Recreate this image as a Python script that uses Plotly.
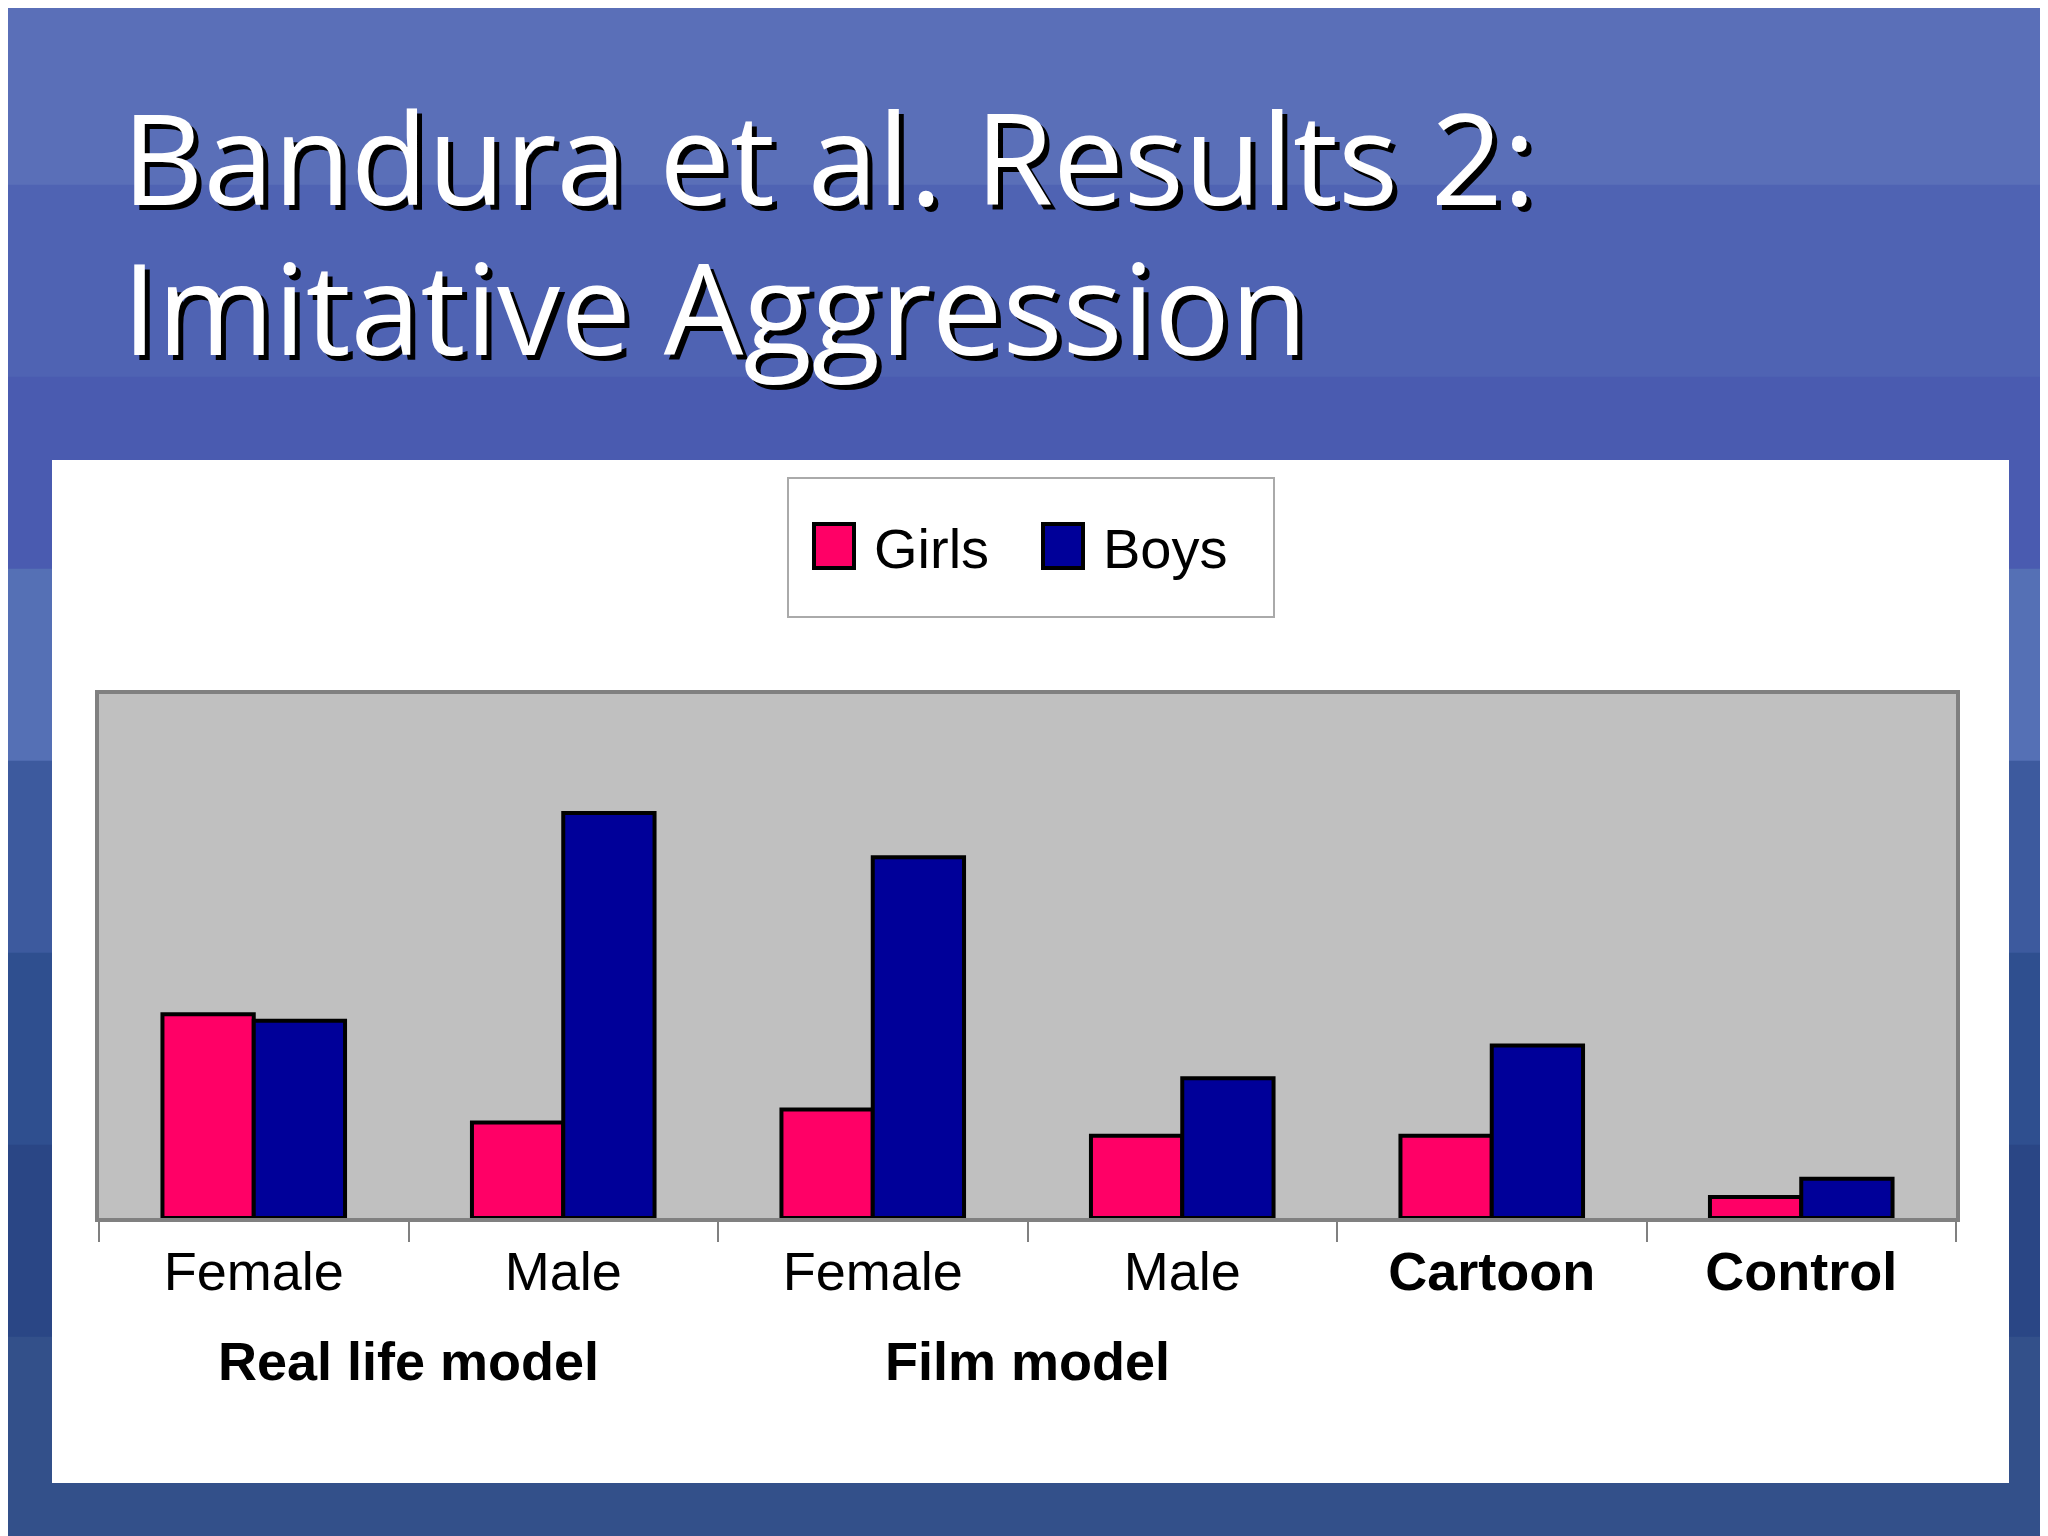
import plotly.graph_objects as go

categories = ["Female", "Male", "Female", "Male", "<b>Cartoon</b>", "<b>Control</b>"]
girls = [156, 73, 83, 63, 63, 16]
boys = [151, 310, 276, 107, 132, 30]
groups = [("Real life model", 0.5), ("Film model", 2.5)]
series = [("Girls", "#ff0066"), ("Boys", "#000099")]

W, H = 2048, 1536
x = list(range(len(categories)))
DY = -9

fig = go.Figure()
for (name, col), vals in zip(series, [girls, boys]):
    fig.add_bar(x=x, y=vals, name=name, showlegend=False,
                marker=dict(color=col, line=dict(color="black", width=4)))

def fx(px): return px / W
def fy(py): return 1 - (py + DY) / H

px0, px1, py0, py1 = 91, 1948, 695, 1219

shapes = []
bands = ["#5a6fb8", "#4f63b3", "#4a5bb0", "#5570b5", "#3d5a9e", "#2f4f8f", "#2a4685", "#33508a"]
n = len(bands)
for i, c in enumerate(bands):
    shapes.append(dict(type="rect", xref="paper", yref="paper", layer="below",
                       x0=-0.1, x1=1.1, y0=1 - (i + 1) / n - 0.01, y1=1 - i / n + 0.01,
                       fillcolor=c, line=dict(width=0)))
shapes.append(dict(type="rect", xref="paper", yref="paper", layer="below",
                   x0=fx(44), x1=fx(2001), y0=fy(1484), y1=fy(461),
                   fillcolor="white", line=dict(width=0)))
shapes.append(dict(type="rect", xref="paper", yref="paper", layer="below",
                   x0=fx(px0), x1=fx(px1), y0=fy(py1), y1=fy(py0),
                   fillcolor="#c0c0c0", line=dict(width=0)))
shapes.append(dict(type="rect", xref="paper", yref="paper",
                   x0=fx(780), x1=fx(1266), y0=fy(618), y1=fy(479),
                   fillcolor="white", line=dict(color="#aaaaaa", width=2)))

annotations = [
    dict(text="Bandura et al. Results 2:", xref="paper", yref="paper",
         x=fx(112), y=fy(157), xanchor="left", yanchor="middle", showarrow=False,
         font=dict(family="Open Sans", size=126, color="white", shadow="5px 5px 0px black")),
    dict(text="Imitative Aggression", xref="paper", yref="paper",
         x=fx(112), y=fy(307), xanchor="left", yanchor="middle", showarrow=False,
         font=dict(family="Open Sans", size=126, color="white", shadow="5px 5px 0px black")),
]
leg_x = [806, 1035]
for (name, col), lx in zip(series, leg_x):
    shapes.append(dict(type="rect", xref="paper", yref="paper",
                       x0=fx(lx), x1=fx(lx + 40), y0=fy(569), y1=fy(525),
                       fillcolor=col, line=dict(color="black", width=4)))
    annotations.append(dict(text=name, xref="paper", yref="paper", x=fx(lx + 58), y=fy(549),
                            xanchor="left", yanchor="middle", showarrow=False,
                            font=dict(family="Liberation Sans", size=56, color="black")))
for name, pos in groups:
    annotations.append(dict(text=f"<b>{name}</b>", x=pos, xref="x", y=fy(1394), yref="paper",
                            showarrow=False, font=dict(family="Liberation Sans", size=54, color="black")))

fig.update_layout(
    width=W, height=H, paper_bgcolor="#3a5096", plot_bgcolor="rgba(0,0,0,0)",
    margin=dict(l=0, r=0, t=0, b=0),
    barmode="group", bargap=0.41, bargroupgap=0,
    shapes=shapes, annotations=annotations, showlegend=False,
    xaxis=dict(domain=[fx(px0), fx(px1)], range=[-0.5, 5.5], tickvals=x, ticktext=categories,
               ticks="outside", ticklen=3, tickcolor="rgba(0,0,0,0)",
               tickfont=dict(family="Liberation Sans", size=54, color="black"),
               showline=True, linecolor="#808080", linewidth=4, mirror=True, showgrid=False,
               minor=dict(tickvals=[i - 0.5 for i in range(7)], ticks="outside", ticklen=20,
                          tickcolor="#808080", tickwidth=2)),
    yaxis=dict(domain=[fy(py1), fy(py0)], range=[0, 401], showticklabels=False, ticks="",
               showgrid=False, zeroline=False, showline=True, linecolor="#808080", linewidth=4, mirror=True),
)
fig.write_html("out.html")
